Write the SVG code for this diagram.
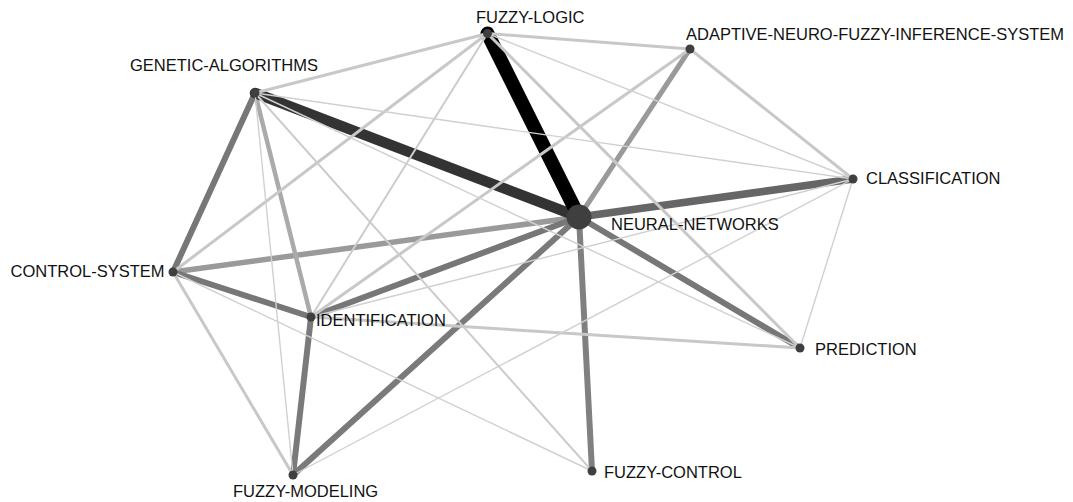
<svg xmlns="http://www.w3.org/2000/svg" width="1073" height="502" viewBox="0 0 1073 502">
<style>
.e{fill:none;stroke-linecap:round}
.l3{stroke:#c8c8c8;stroke-width:3}
.l2{stroke:#cccccc;stroke-width:2}
.l1{stroke:#d0d0d0;stroke-width:1.4}
.n{fill:#3f3f3f}
.t{font-family:"Liberation Sans",Arial,sans-serif;font-size:16.5px;fill:#111}
</style>
<rect width="1073" height="502" fill="#ffffff"/>
<g id="connectors">
<line class="e" x1="579" y1="217" x2="690" y2="49" stroke="#9a9a9a" stroke-width="5"/>
<line class="e" x1="579" y1="217" x2="173" y2="272" stroke="#9a9a9a" stroke-width="5.5"/>
<line class="e" x1="255" y1="93" x2="311" y2="317" stroke="#aaaaaa" stroke-width="4.5"/>
<line class="e" x1="255" y1="93" x2="173" y2="272" stroke="#777777" stroke-width="6"/>
<line class="e" x1="173" y1="272" x2="311" y2="317" stroke="#777777" stroke-width="6"/>
<line class="e" x1="311" y1="317" x2="293" y2="475" stroke="#7a7a7a" stroke-width="6"/>
<line class="e" x1="579" y1="217" x2="311" y2="317" stroke="#777777" stroke-width="6"/>
<line class="e" x1="579" y1="217" x2="293" y2="475" stroke="#7a7a7a" stroke-width="6"/>
<line class="e" x1="579" y1="217" x2="592" y2="471" stroke="#808080" stroke-width="6"/>
<line class="e" x1="579" y1="217" x2="800" y2="348" stroke="#777777" stroke-width="6"/>
<line class="e" x1="579" y1="217" x2="853" y2="179" stroke="#666666" stroke-width="7.5"/>
<line class="e" x1="255" y1="93" x2="579" y2="217" stroke="#333333" stroke-width="10.5"/>
<line class="e" x1="487.5" y1="33.5" x2="579" y2="217" stroke="#000000" stroke-width="14"/>
<line class="e l3" x1="487.5" y1="33.5" x2="690" y2="49"/>
<line class="e l3" x1="487.5" y1="33.5" x2="255" y2="93"/>
<line class="e l3" x1="487.5" y1="33.5" x2="173" y2="272"/>
<line class="e l3" x1="487.5" y1="33.5" x2="800" y2="348"/>
<line class="e l3" x1="690" y1="49" x2="853" y2="179"/>
<line class="e l3" x1="690" y1="49" x2="311" y2="317"/>
<line class="e l3" x1="173" y1="272" x2="293" y2="475"/>
<line class="e l3" x1="311" y1="317" x2="800" y2="348"/>
<line class="e l2" x1="487.5" y1="33.5" x2="311" y2="317"/>
<line class="e l2" x1="255" y1="93" x2="592" y2="471"/>
<line class="e l1" x1="487.5" y1="33.5" x2="853" y2="179"/>
<line class="e l1" x1="255" y1="93" x2="853" y2="179"/>
<line class="e l1" x1="255" y1="93" x2="800" y2="348"/>
<line class="e l1" x1="255" y1="93" x2="293" y2="475"/>
<line class="e l1" x1="173" y1="272" x2="592" y2="471"/>
<line class="e l1" x1="311" y1="317" x2="853" y2="179"/>
<line class="e l1" x1="293" y1="475" x2="853" y2="179"/>
<line class="e l1" x1="853" y1="179" x2="800" y2="348"/>
</g>
<g id="node-fuzzy-logic"><circle class="n" cx="487.5" cy="33.5" r="4.5"/><text class="t" x="476" y="23">FUZZY-LOGIC</text></g>
<g id="node-anfis"><circle class="n" cx="690" cy="49" r="4.5"/><text class="t" x="686" y="40">ADAPTIVE-NEURO-FUZZY-INFERENCE-SYSTEM</text></g>
<g id="node-genetic-algorithms"><circle class="n" cx="255" cy="93" r="4.5"/><text class="t" x="130" y="71">GENETIC-ALGORITHMS</text></g>
<g id="node-classification"><circle class="n" cx="853" cy="179" r="4.5"/><text class="t" x="866" y="184">CLASSIFICATION</text></g>
<g id="node-neural-networks"><circle class="n" cx="579" cy="217" r="12.5"/><text class="t" x="611" y="230">NEURAL-NETWORKS</text></g>
<g id="node-control-system"><circle class="n" cx="173" cy="272" r="4.5"/><text class="t" x="10.5" y="277">CONTROL-SYSTEM</text></g>
<g id="node-identification"><circle class="n" cx="311" cy="317" r="4.5"/><text class="t" x="316" y="326">IDENTIFICATION</text></g>
<g id="node-prediction"><circle class="n" cx="800" cy="348" r="4.5"/><text class="t" x="815" y="355">PREDICTION</text></g>
<g id="node-fuzzy-control"><circle class="n" cx="592" cy="471" r="4.5"/><text class="t" x="604" y="478">FUZZY-CONTROL</text></g>
<g id="node-fuzzy-modeling"><circle class="n" cx="293" cy="475" r="4.5"/><text class="t" x="233" y="497">FUZZY-MODELING</text></g>
</svg>
